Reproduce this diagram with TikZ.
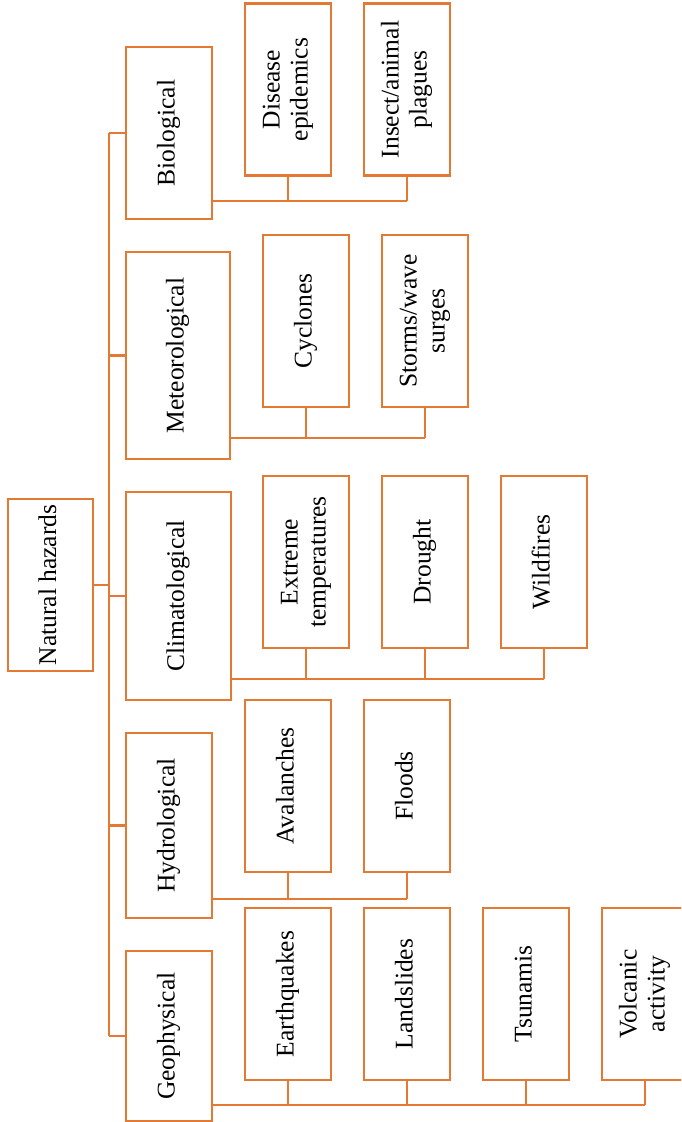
\documentclass[tikz,border=0pt]{standalone}
\usepackage{fontspec}
\setmainfont{Liberation Serif}
\definecolor{hz}{RGB}{227,121,50}
\tikzset{
  hbox/.style={draw=hz, line width=2.5pt, fill=white, inner sep=0pt, align=center,
    font=\fontsize{25.5}{28}\selectfont},
  catbox/.style={hbox, minimum width=86pt, minimum height=172pt},
  leafbox/.style={hbox, minimum width=86pt, minimum height=172pt},
  link/.style={draw=hz, line width=2.5pt}
}
\newcommand{\rt}[1]{\rotatebox{90}{\begin{tabular}{@{}c@{}}#1\end{tabular}}}
\begin{document}
\begin{tikzpicture}[x=1pt,y=-1pt]
\useasboundingbox (0,0) rectangle (681,1122);
\clip (0,0) rectangle (681,1122);
\fill[white] (0,0) rectangle (681,1122);
% root
\node[hbox, minimum width=85pt, minimum height=172pt] (nh) at (50.5,585) {\rt{Natural hazards}};
% categories
\node[catbox] (bio) at (169,133) {\rt{Biological}};
\node[hbox, minimum width=104pt, minimum height=207pt] (met) at (178,355.5) {\rt{Meteorological}};
\node[hbox, minimum width=105pt, minimum height=208pt] (cli) at (178.5,596) {\rt{Climatological}};
\node[hbox, minimum width=86pt, minimum height=185pt] (hyd) at (169,825.5) {\rt{Hydrological}};
\node[hbox, minimum width=86pt, minimum height=170pt] (geo) at (169,1036) {\rt{Geophysical}};
% leaves
\node[leafbox] (dis) at (288,89.5) {\rt{Disease\\epidemics}};
\node[leafbox] (ins) at (407,89.5) {\rt{Insect/animal\\plagues}};
\node[leafbox] (cyc) at (306,321) {\rt{Cyclones}};
\node[leafbox] (sto) at (425,321) {\rt{Storms/wave\\surges}};
\node[leafbox] (ext) at (306,562) {\rt{Extreme\\temperatures}};
\node[leafbox] (dro) at (425,562) {\rt{Drought}};
\node[leafbox] (wil) at (544,562) {\rt{Wildfires}};
\node[leafbox] (ava) at (288,786) {\rt{Avalanches}};
\node[leafbox] (flo) at (407,786) {\rt{Floods}};
\node[leafbox] (ear) at (288,994) {\rt{Earthquakes}};
\node[leafbox] (lan) at (407,994) {\rt{Landslides}};
\node[leafbox] (tsu) at (526,994) {\rt{Tsunamis}};
\node[leafbox] (vol) at (645,994) {\rt{Volcanic\\activity}};
% trunk
\coordinate (tt) at (109,133);
\coordinate (tb) at (109,1036);
\coordinate (tm) at (109,585);
\draw[link] (tt) -- (tb);
\draw[link] (nh.east) -- (tm);
\foreach \c in {bio,met,cli,hyd,geo}{
  \draw[link] (tt |- \c.west) -- (\c.west);
}
% buses
\coordinate (bbio) at (407,201);
\coordinate (bmet) at (425,438);
\coordinate (bcli) at (544,679);
\coordinate (bhyd) at (407,899);
\coordinate (bgeo) at (645,1105);
\draw[link] (bio.east |- bbio) -- (bbio);
\draw[link] (met.east |- bmet) -- (bmet);
\draw[link] (cli.east |- bcli) -- (bcli);
\draw[link] (hyd.east |- bhyd) -- (bhyd);
\draw[link] (geo.east |- bgeo) -- (bgeo);
\foreach \l/\b in {dis/bbio,ins/bbio,cyc/bmet,sto/bmet,ext/bcli,dro/bcli,wil/bcli,ava/bhyd,flo/bhyd,ear/bgeo,lan/bgeo,tsu/bgeo,vol/bgeo}{
  \draw[link] (\l.south) -- (\l.south |- \b);
}
\end{tikzpicture}
\end{document}
